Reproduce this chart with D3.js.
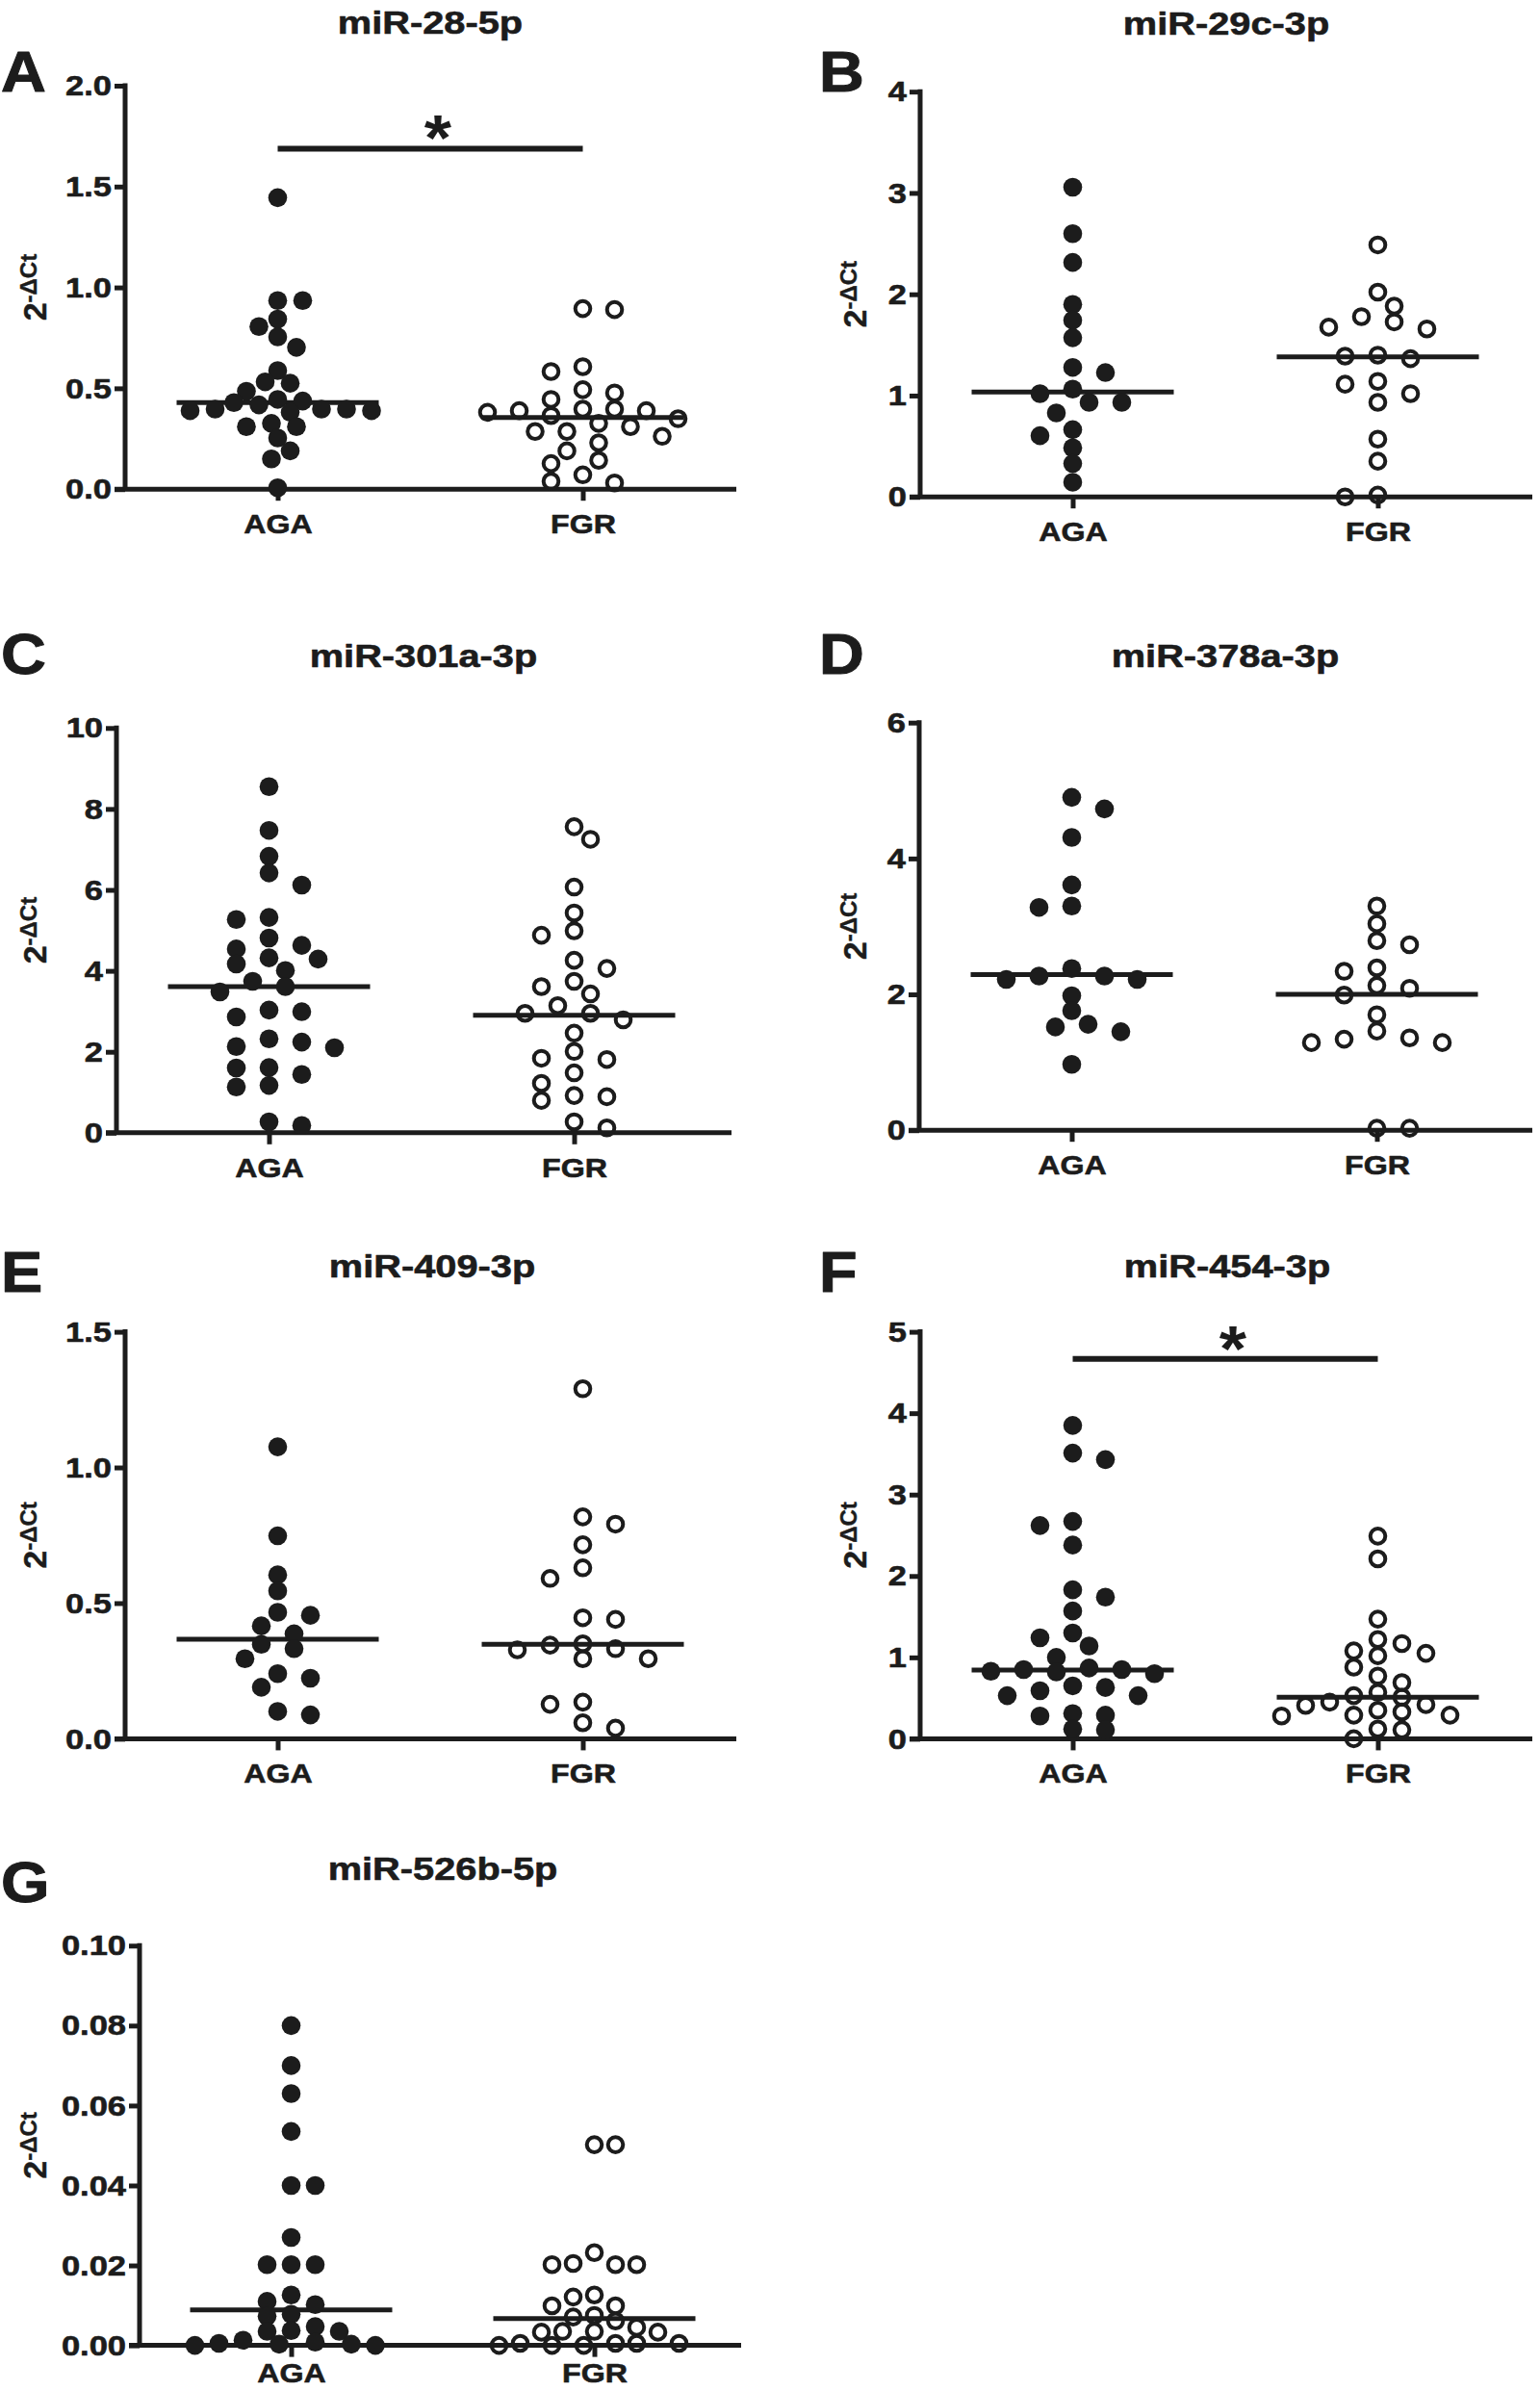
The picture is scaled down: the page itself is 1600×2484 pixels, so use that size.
<!DOCTYPE html>
<html><head><meta charset="utf-8">
<script src="https://cdn.jsdelivr.net/npm/d3@7"></script>
<style>
html,body{margin:0;padding:0;background:#fff;}
svg{display:block;}
text{font-family:"Liberation Sans",Arial,Helvetica,sans-serif;font-weight:bold;}
</style>
</head><body><script>
// ---------------- DATA ----------------
const categories = ["AGA", "FGR"];
const panelLetters = ["A", "B", "C", "D", "E", "F", "G"];
const titles = ["miR-28-5p", "miR-29c-3p", "miR-301a-3p", "miR-378a-3p", "miR-409-3p", "miR-454-3p", "miR-526b-5p"];

const aAGA = [1.445, 0.935, 0.935, 0.843, 0.806, 0.755, 0.703, 0.588, 0.532, 0.525, 0.485, 0.445, 0.437, 0.429, 0.418, 0.397, 0.397, 0.397, 0.389, 0.389, 0.381, 0.326, 0.31, 0.31, 0.254, 0.19, 0.15, 0.007];
const aFGR = [0.895, 0.89, 0.607, 0.583, 0.493, 0.477, 0.445, 0.397, 0.397, 0.389, 0.389, 0.381, 0.365, 0.349, 0.326, 0.31, 0.286, 0.286, 0.262, 0.23, 0.19, 0.143, 0.127, 0.071, 0.039, 0.031];
const bAGA = [3.057, 2.598, 2.314, 1.90, 1.744, 1.571, 1.278, 1.227, 1.064, 1.019, 0.933, 0.933, 0.829, 0.663, 0.604, 0.484, 0.329, 0.145];
const bFGR = [2.487, 2.021, 1.883, 1.779, 1.727, 1.675, 1.658, 1.399, 1.389, 1.364, 1.14, 1.112, 1.019, 0.933, 0.57, 0.352, 0.017, 0.0];
const cAGA = [8.55, 7.47, 6.83, 6.42, 6.12, 5.32, 5.27, 4.81, 4.63, 4.54, 4.32, 4.29, 4.17, 4.01, 3.74, 3.61, 3.48, 3.03, 2.99, 2.86, 2.32, 2.24, 2.13, 2.10, 1.61, 1.60, 1.44, 1.17, 1.13, 0.27, 0.18];
const cFGR = [7.56, 7.25, 6.07, 5.43, 4.99, 4.88, 4.26, 4.06, 3.74, 3.61, 3.43, 3.14, 2.95, 2.95, 2.79, 2.46, 2.01, 1.84, 1.81, 1.48, 1.22, 0.92, 0.89, 0.80, 0.27, 0.12];
const dAGA = [4.90, 4.73, 4.31, 3.61, 3.30, 3.28, 2.38, 2.27, 2.27, 2.22, 2.22, 1.98, 1.76, 1.56, 1.52, 1.45, 0.97];
const dFGR = [3.30, 3.04, 2.79, 2.73, 2.39, 2.34, 2.13, 2.09, 1.99, 1.70, 1.46, 1.36, 1.34, 1.29, 1.29, 0.03, 0.03];
const eAGA = [1.076, 0.748, 0.604, 0.545, 0.466, 0.455, 0.416, 0.387, 0.348, 0.332, 0.295, 0.240, 0.223, 0.190, 0.101, 0.088];
const eFGR = [1.29, 0.818, 0.791, 0.715, 0.630, 0.591, 0.446, 0.440, 0.350, 0.345, 0.332, 0.328, 0.295, 0.295, 0.135, 0.127, 0.059, 0.039];
const fAGA = [3.85, 3.51, 3.43, 2.67, 2.62, 2.38, 1.83, 1.74, 1.57, 1.30, 1.24, 1.14, 1.00, 0.87, 0.85, 0.85, 0.83, 0.82, 0.80, 0.65, 0.63, 0.59, 0.53, 0.53, 0.31, 0.29, 0.28, 0.12, 0.11];
const fFGR = [2.49, 2.21, 1.47, 1.22, 1.17, 1.08, 1.05, 1.02, 0.88, 0.77, 0.69, 0.57, 0.53, 0.51, 0.45, 0.42, 0.41, 0.35, 0.33, 0.29, 0.29, 0.28, 0.12, 0.11, 0.0];
const gAGA = [0.080, 0.070, 0.063, 0.0535, 0.040, 0.040, 0.027, 0.0202, 0.0202, 0.0202, 0.0126, 0.0110, 0.0102, 0.0078, 0.0073, 0.0047, 0.0037, 0.0035, 0.0035, 0.0013, 0.0008, 0.0005, 0.0003, 0.0003, 0.0, 0.0];
const gFGR = [0.0502, 0.0502, 0.0232, 0.0205, 0.0202, 0.0202, 0.0202, 0.0126, 0.0121, 0.0099, 0.0099, 0.0075, 0.0071, 0.0061, 0.0045, 0.0035, 0.0035, 0.0033, 0.0033, 0.0005, 0.0005, 0.0005, 0.0005, 0.0, 0.0, 0.0];

const groupValues = [[aAGA, aFGR], [bAGA, bFGR], [cAGA, cFGR], [dAGA, dFGR], [eAGA, eFGR], [fAGA, fFGR], [gAGA, gFGR]];
const medianValues = [[0.429, 0.355], [1.036, 1.382], [3.61, 2.90], [2.29, 2.0], [0.367, 0.348], [0.845, 0.51], [0.0089, 0.0067]];
const yMaxValues = [2.0, 4, 10, 6, 1.5, 5, 0.10];
const yTickValues = [[0, 0.5, 1.0, 1.5, 2.0], [0, 1, 2, 3, 4], [0, 2, 4, 6, 8, 10], [0, 2, 4, 6], [0, 0.5, 1.0, 1.5], [0, 1, 2, 3, 4, 5], [0, 0.02, 0.04, 0.06, 0.08, 0.10]];
const yTickFormats = [".1f", "d", "d", "d", ".1f", "d", ".2f"];
const sigBarValues = [1.688, null, null, null, null, 4.667, null];
const sigLabel = "*";

// ---------------- LAYOUT ----------------
const layout = [
  {x0: 130, span: 634, xEnd: 765, yTop: 89,     y0: 508.2,  tx: 447,  ty: 35,   lx: 1,   ly: 95,   yl: 48,  xp: 14},
  {x0: 956, span: 634, xEnd: 1592, yTop: 95.2,  y0: 516.2,  tx: 1274, ty: 36,   lx: 851, ly: 95,   yl: 900, xp: 14},
  {x0: 121, span: 634, xEnd: 760, yTop: 756.3,  y0: 1176.8, tx: 440,  ty: 693,  lx: 1,   ly: 700,  yl: 48,  xp: 14},
  {x0: 955, span: 634, xEnd: 1592, yTop: 750.7, y0: 1174.2, tx: 1273, ty: 693,  lx: 851, ly: 700,  yl: 900, xp: 14},
  {x0: 130, span: 634, xEnd: 765, yTop: 1383.6, y0: 1806.4, tx: 449,  ty: 1327, lx: 1,   ly: 1342, yl: 48,  xp: 14},
  {x0: 956, span: 634, xEnd: 1592, yTop: 1383.6, y0: 1806.4, tx: 1275, ty: 1327, lx: 851, ly: 1342, yl: 900, xp: 14},
  {x0: 145, span: 630, xEnd: 770, yTop: 2021.3, y0: 2436.6, tx: 460,  ty: 1953, lx: 1,   ly: 1976, yl: 48,  xp: 7}
];
const INK = "#1c1c1c";
const R = 9.8;

const svg = d3.select("body").append("svg").attr("width", 1600).attr("height", 2484)
  .attr("viewBox", "0 0 1600 2484");
svg.append("rect").attr("width", 1600).attr("height", 2484).attr("fill", "#fff");

function stretch(sel, sx) {
  sel.each(function () {
    const t = d3.select(this);
    const x = +(t.attr("x") || 0);
    t.attr("x", x / sx).attr("transform", `scale(${sx},1)`);
  });
}
function heavy(sel, w) {
  sel.attr("stroke", INK).attr("stroke-width", w).attr("paint-order", "stroke").attr("stroke-linejoin", "round");
}

// column-scatter (beeswarm) layout computed from values
function swarm(vals, yS) {
  const pts = vals.map((v, i) => ({v, i, y: yS(v)})).sort((a, b) => a.y - b.y || a.i - b.i);
  let result = null;
  for (let g = 17; g >= 6; g -= 0.5) {
    const Dx = Math.max(2 * R + 1, 2 * g), Dy = 15;
    const placed = [];
    let maxOff = 0, flip = false;
    for (const p of pts) {
      const bal = placed.reduce((s, q) => s + Math.sign(q.off), 0);
      const leftFirst = bal > 0 || (bal === 0 && flip);
      let off = null;
      for (let j = 0; j < 40 && off === null; j++) {
        const cands = j === 0 ? [0] : (leftFirst ? [-j * g, j * g] : [j * g, -j * g]);
        for (const c of cands) {
          let ok = true;
          for (const q of placed) {
            const dx = (c - q.off) / Dx, dy = (p.y - q.y) / Dy;
            if (dx * dx + dy * dy < 1) { ok = false; break; }
          }
          if (ok) { off = c; break; }
        }
      }
      if (off !== 0) flip = !flip;
      placed.push({v: p.v, y: p.y, off});
      maxOff = Math.max(maxOff, Math.abs(off));
    }
    result = placed;
    if (maxOff <= 100) break;
  }
  return result;
}

layout.forEach((L, pi) => {
  const g = svg.append("g");
  const y = d3.scaleLinear().domain([0, yMaxValues[pi]]).range([L.y0, L.yTop]);
  const x = d3.scalePoint().domain(categories).range([L.x0, L.x0 + L.span]).padding(0.5);

  // y axis
  const yAxis = d3.axisLeft(y).tickValues(yTickValues[pi]).tickFormat(d3.format(yTickFormats[pi]))
    .tickSize(11).tickPadding(3).tickSizeOuter(0);
  const yg = g.append("g").attr("transform", `translate(${L.x0},0)`).call(yAxis);
  yg.select(".domain").remove();
  yg.selectAll(".tick line").attr("stroke", INK).attr("stroke-width", 5);
  yg.selectAll(".tick text").attr("font-size", 30).attr("fill", INK).call(stretch, 1.15).call(heavy, 0.6);
  g.append("line").attr("x1", L.x0).attr("x2", L.x0).attr("y1", L.y0).attr("y2", L.yTop - 2.5)
    .attr("stroke", INK).attr("stroke-width", 5);

  // x axis
  const xAxis = d3.axisBottom(x).tickSize(12).tickPadding(L.xp).tickSizeOuter(0);
  const xg = g.append("g").attr("transform", `translate(0,${L.y0})`).call(xAxis);
  xg.select(".domain").remove();
  xg.selectAll(".tick line").attr("stroke", INK).attr("stroke-width", 5);
  xg.selectAll(".tick text").attr("font-size", 28).attr("fill", INK).call(stretch, 1.15).call(heavy, 0.6);
  g.append("line").attr("x1", L.x0 - 11).attr("x2", L.xEnd).attr("y1", L.y0).attr("y2", L.y0)
    .attr("stroke", INK).attr("stroke-width", 5);

  // medians
  g.selectAll(".median").data(categories).join("line").attr("class", "median")
    .attr("x1", c => x(c) - 105).attr("x2", c => x(c) + 105)
    .attr("y1", (c, i) => y(medianValues[pi][i])).attr("y2", (c, i) => y(medianValues[pi][i]))
    .attr("stroke", INK).attr("stroke-width", 5);

  // points
  categories.forEach((c, ci) => {
    const pts = swarm(groupValues[pi][ci], y);
    const sel = g.append("g").selectAll("circle").data(pts).join("circle")
      .attr("cx", d => x(c) + d.off).attr("cy", d => y(d.v));
    if (ci === 0) sel.attr("r", R).attr("fill", INK);
    else sel.attr("r", R - 2).attr("fill", "none").attr("stroke", INK).attr("stroke-width", 4);
  });

  // significance
  if (sigBarValues[pi] !== null) {
    const by = y(sigBarValues[pi]);
    g.append("line").attr("x1", x(categories[0])).attr("x2", x(categories[1]))
      .attr("y1", by).attr("y2", by).attr("stroke", INK).attr("stroke-width", 6);
    g.append("text").attr("transform", `translate(${(x(categories[0]) + x(categories[1])) / 2 + 8},${by + 12}) scale(1.1,1)`)
      .attr("text-anchor", "middle").attr("font-size", 66).attr("fill", INK).text(sigLabel);
  }

  // title
  g.append("text").attr("transform", `translate(${L.tx},${L.ty}) scale(1.17,1)`)
    .attr("text-anchor", "middle").attr("font-size", 34).attr("fill", INK).text(titles[pi]).call(heavy, 0.6);

  // panel letter
  g.append("text").attr("transform", `translate(${L.lx},${L.ly}) scale(1.08,1)`)
    .attr("font-size", 60).attr("fill", INK).text(panelLetters[pi]).call(heavy, 1);

  // y label 2^-ΔCt
  const yt = g.append("text").attr("transform", `translate(${L.yl},${(L.y0 + L.yTop) / 2}) rotate(-90)`)
    .attr("text-anchor", "middle").attr("fill", INK).call(heavy, 0.4);
  yt.append("tspan").attr("font-size", 34).text("2");
  yt.append("tspan").attr("font-size", 24).attr("dy", -10).text("-\u0394Ct");
});
</script></body></html>
